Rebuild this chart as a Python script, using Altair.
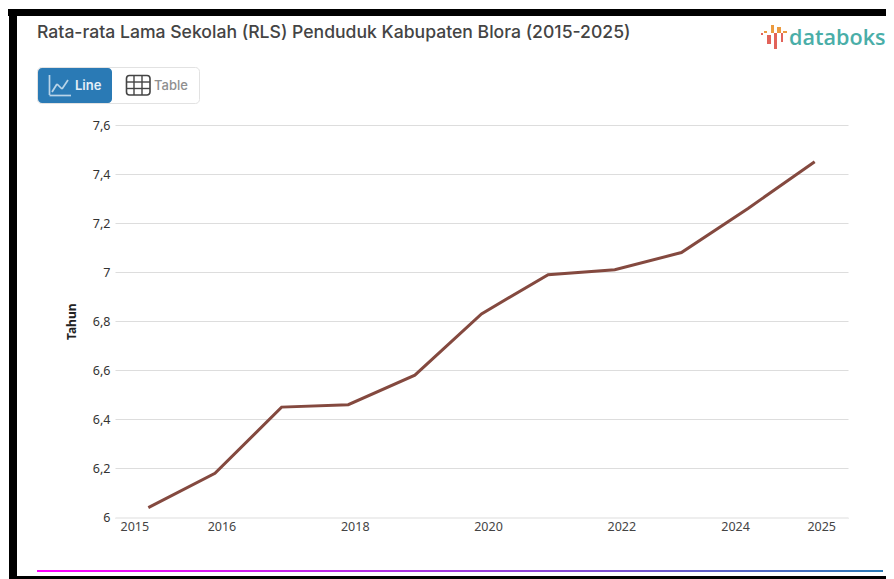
import altair as alt
import pandas as pd

years = [2015, 2016, 2017, 2018, 2019, 2020, 2021, 2022, 2023, 2024, 2025]
values = [6.04, 6.18, 6.45, 6.46, 6.58, 6.83, 6.99, 7.01, 7.08, 7.26, 7.45]
y_ticks = [6, 6.2, 6.4, 6.6, 6.8, 7, 7.2, 7.4, 7.6]
x_ticks = [2015, 2016, 2018, 2020, 2022, 2024, 2025]

PX, PY = 115, 125          # plot-area origin on the page
one = alt.Data(values=[{"a": 1}])


def rect(x0, y0, x1, y1, color, radius=0, **kw):
    return alt.Chart(one).mark_rect(color=color, cornerRadius=radius, **kw).encode(
        x=alt.value(x0 - PX), x2=alt.value(x1 - PX),
        y=alt.value(y0 - PY), y2=alt.value(y1 - PY))


def seg(x0, y0, x1, y1, color, w=1.7):
    return alt.Chart(one).mark_rule(color=color, strokeWidth=w).encode(
        x=alt.value(x0 - PX), x2=alt.value(x1 - PX),
        y=alt.value(y0 - PY), y2=alt.value(y1 - PY))


def text(s, x, y, size, color, font="Inter", weight=400, **kw):
    return alt.Chart(one).mark_text(text=s, align="left", baseline="alphabetic", font=font,
                                    fontSize=size, color=color, fontWeight=weight, **kw).encode(
        x=alt.value(x - PX), y=alt.value(y - PY))


decor = [
    rect(8, 9, 894, 16, "#000000"),
    rect(9, 9, 17, 579, "#000000"),
    rect(9, 576, 894, 579, "#000000"),
    text("Rata-rata Lama Sekolah (RLS) Penduduk Kabupaten Blora (2015-2025)", 37, 38, 17.6, "#444444", weight=500),
    # toggle
    alt.Chart(one).mark_rect(fill="white", stroke="#e2e2e2", cornerRadius=4).encode(
        x=alt.value(37.5 - PX), x2=alt.value(199.5 - PX), y=alt.value(67.5 - PY), y2=alt.value(103.5 - PY)),
    rect(38, 68, 112, 103, "#2a7ab5", radius=4),
    text("Line", 75, 90, 13, "#e4eff7", weight=600),
    text("Table", 154, 90, 13, "#8f8f8f", weight=500),
    # line icon
    seg(49.5, 75, 49.5, 95, "#b9d4e8"), seg(49.5, 95.5, 71, 95.5, "#b9d4e8"),
    seg(52, 92, 57, 84, "#b9d4e8"), seg(57, 84, 62, 89, "#b9d4e8"), seg(62, 89, 68, 80, "#b9d4e8"),
    # table icon
    alt.Chart(one).mark_rect(fill="white", stroke="#444444", strokeWidth=1.6, cornerRadius=3).encode(
        x=alt.value(126.5 - PX), x2=alt.value(150 - PX), y=alt.value(75.5 - PY), y2=alt.value(95 - PY)),
    seg(134, 75.5, 134, 95, "#444444", 1.4), seg(142, 75.5, 142, 95, "#444444", 1.4),
    seg(126.5, 82, 150, 82, "#444444", 1.4), seg(126.5, 88.5, 150, 88.5, "#444444", 1.4),
    # logo
    rect(761, 33, 763, 35, "#e2635a"), rect(764, 31, 767, 33, "#eb9a3f"),
    rect(767, 35, 771, 44, "#e2635a"), rect(771, 25, 774, 33, "#eb9a3f"),
    rect(774, 33, 777, 49, "#e2635a"), rect(777, 27, 781, 33, "#eb9a3f"),
    rect(781, 33, 783, 42, "#e2635a"), rect(783, 31, 787, 33, "#eb9a3f"),
    text("databoks", 789, 45, 21.6, "#4aaea8", font="Open Sans", weight=600),
    # bottom rule
    alt.Chart(one).mark_rect(color=alt.Gradient(
        gradient="linear", x1=0, x2=1, y1=0, y2=0,
        stops=[alt.GradientStop(color="#ff00ff", offset=0),
               alt.GradientStop(color="#7b4fd0", offset=0.68),
               alt.GradientStop(color="#2a7ab5", offset=1)])).encode(
        x=alt.value(37 - PX), x2=alt.value(883 - PX), y=alt.value(570 - PY), y2=alt.value(572 - PY)),
]

offset_expr = ("datum.value == 2015 ? -14 : datum.value == 2024 ? -13 : 6.5")

df = pd.DataFrame({"year": years, "value": values})
line = alt.Chart(df).mark_line(color="#84493f", strokeWidth=3).encode(
    x=alt.X("year:O", scale=alt.Scale(type="point", padding=0.5), title=None,
            axis=alt.Axis(values=x_ticks, labelAngle=0, ticks=False, domainColor="#eeeeee", domainWidth=2,
                          labelFont="Noto Sans", labelFontSize=12.5, labelColor="#444444",
                          labelPadding=3, labelOffset=alt.expr(offset_expr), grid=False)),
    y=alt.Y("value:Q", scale=alt.Scale(domain=[6, 7.6], nice=False, zero=False), title="Tahun",
            axis=alt.Axis(values=y_ticks, ticks=False, domain=False, grid=True, gridColor="#dddddd",
                          gridWidth=1, labelFont="Noto Sans", labelFontSize=12.5, labelColor="#333333",
                          labelPadding=5, labelExpr="replace(format(datum.value, '.1~f'), '.', ',')",
                          titleFont="Noto Sans", titleFontSize=12, titleFontWeight="bold", titleColor="#222222",
                          titlePadding=14)),
)

chart = alt.layer(*decor, line).properties(
    width=733, height=392.5,
    padding={"left": PX - 8, "top": PY - 8, "right": 38, "bottom": 61.5},
    autosize=alt.AutoSizeParams(type="none"),
    background="white",
).configure_view(stroke=None)

chart.save("out.html", embed_options={"renderer": "svg", "actions": False})
